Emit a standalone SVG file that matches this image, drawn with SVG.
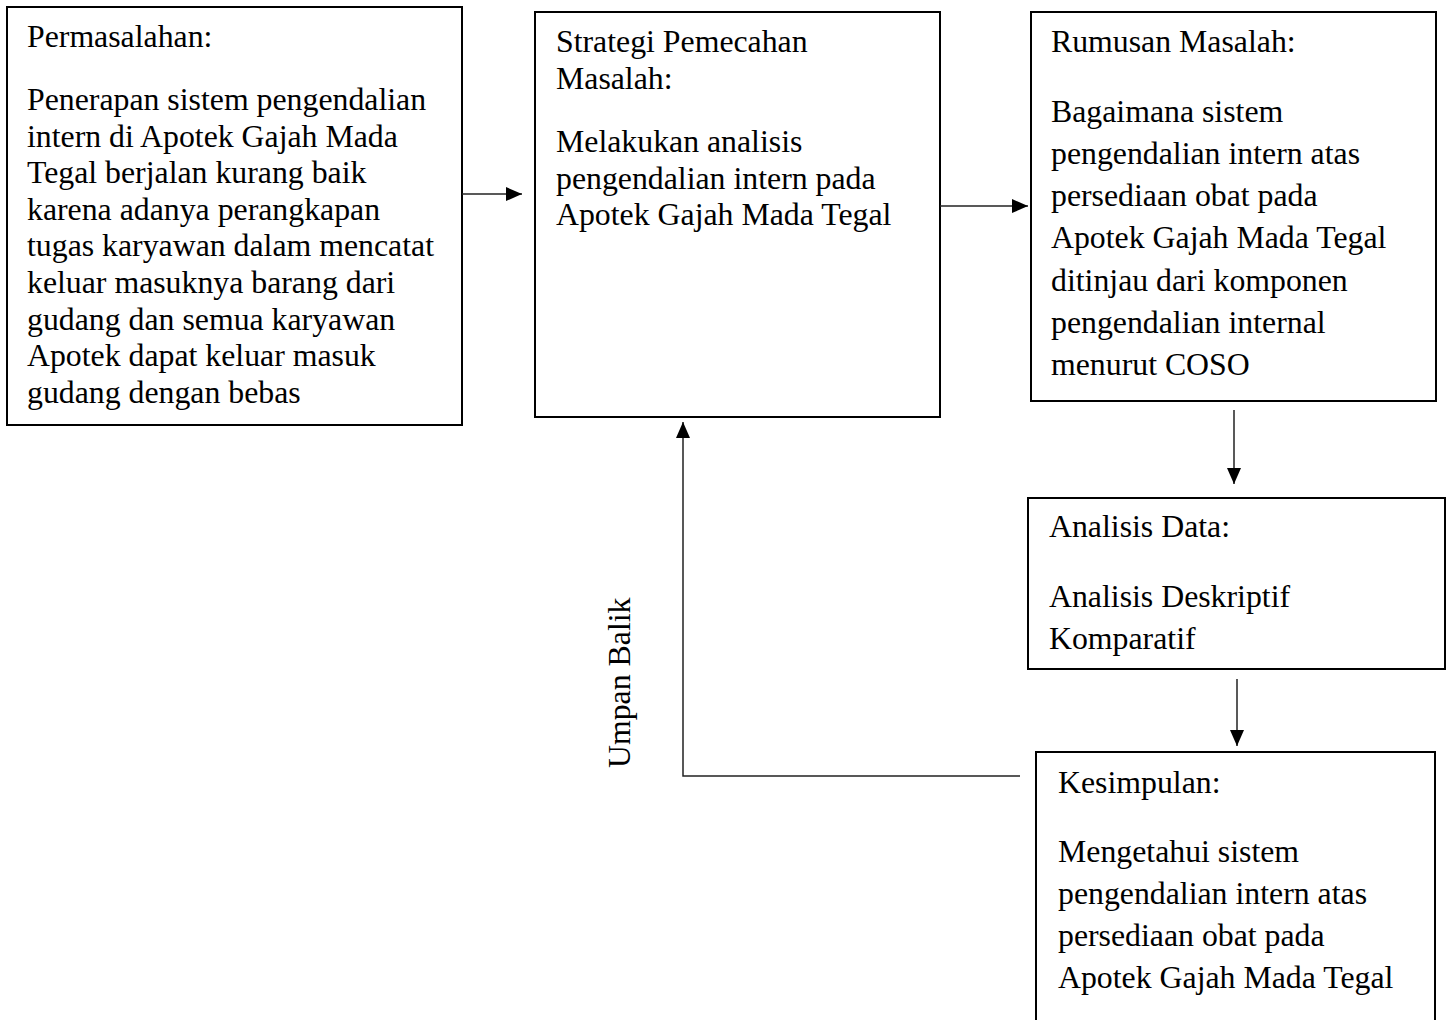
<svg xmlns="http://www.w3.org/2000/svg" width="1450" height="1020" viewBox="0 0 1450 1020">
<style>
.box{fill:#fff;stroke:#000;stroke-width:2}
.t{font-family:"Liberation Serif","Times New Roman",serif;font-size:31.8px;fill:#000}
.c{fill:none;stroke:#222;stroke-width:1.5}
</style>
<defs>
<marker id="ah" markerUnits="userSpaceOnUse" viewBox="0 0 16 14" refX="16" refY="7" markerWidth="16" markerHeight="14" orient="auto">
<path d="M0,0 L16,7 L0,14 Z" fill="#000"/>
</marker>
</defs>
<rect width="1450" height="1020" fill="#fff"/>
<g id="n1">
<rect class="box" x="7" y="7" width="455" height="418"/>
<text class="t" x="27" y="47">Permasalahan:</text>
<text class="t" x="27" y="110">Penerapan sistem pengendalian</text>
<text class="t" x="27" y="146.6">intern di Apotek Gajah Mada</text>
<text class="t" x="27" y="183.2">Tegal berjalan kurang baik</text>
<text class="t" x="27" y="219.8">karena adanya perangkapan</text>
<text class="t" x="27" y="256.4">tugas karyawan dalam mencatat</text>
<text class="t" x="27" y="293">keluar masuknya barang dari</text>
<text class="t" x="27" y="329.6">gudang dan semua karyawan</text>
<text class="t" x="27" y="366.2">Apotek dapat keluar masuk</text>
<text class="t" x="27" y="402.8">gudang dengan bebas</text>
</g>
<g id="n2">
<rect class="box" x="535" y="12" width="405" height="405"/>
<text class="t" x="556" y="52">Strategi Pemecahan</text>
<text class="t" x="556" y="88.6">Masalah:</text>
<text class="t" x="556" y="152">Melakukan analisis</text>
<text class="t" x="556" y="188.6">pengendalian intern pada</text>
<text class="t" x="556" y="225.2">Apotek Gajah Mada Tegal</text>
</g>
<g id="n3">
<rect class="box" x="1031" y="12" width="405" height="389"/>
<text class="t" x="1051" y="52">Rumusan Masalah:</text>
<text class="t" x="1051" y="121.5">Bagaimana sistem</text>
<text class="t" x="1051" y="163.8">pengendalian intern atas</text>
<text class="t" x="1051" y="206.1">persediaan obat pada</text>
<text class="t" x="1051" y="248.4">Apotek Gajah Mada Tegal</text>
<text class="t" x="1051" y="290.7">ditinjau dari komponen</text>
<text class="t" x="1051" y="333">pengendalian internal</text>
<text class="t" x="1051" y="375.3">menurut COSO</text>
</g>
<g id="n4">
<rect class="box" x="1028" y="498" width="417" height="171"/>
<text class="t" x="1049" y="537">Analisis Data:</text>
<text class="t" x="1049" y="607">Analisis Deskriptif</text>
<text class="t" x="1049" y="649">Komparatif</text>
</g>
<g id="n5">
<rect class="box" x="1036" y="752" width="399" height="290"/>
<text class="t" x="1058" y="793">Kesimpulan:</text>
<text class="t" x="1058" y="862">Mengetahui sistem</text>
<text class="t" x="1058" y="904">pengendalian intern atas</text>
<text class="t" x="1058" y="946">persediaan obat pada</text>
<text class="t" x="1058" y="988">Apotek Gajah Mada Tegal</text>
</g>
<g id="connectors">
<line class="c" x1="462" y1="194" x2="522" y2="194" marker-end="url(#ah)"/>
<line class="c" x1="940" y1="206" x2="1028" y2="206" marker-end="url(#ah)"/>
<line class="c" x1="1234" y1="410" x2="1234" y2="484" marker-end="url(#ah)"/>
<line class="c" x1="1237" y1="679" x2="1237" y2="746" marker-end="url(#ah)"/>
<polyline class="c" points="1020,776 683,776 683,422" marker-end="url(#ah)"/>
<text class="t" transform="translate(630,768) rotate(-90)">Umpan Balik</text>
</g>
</svg>
